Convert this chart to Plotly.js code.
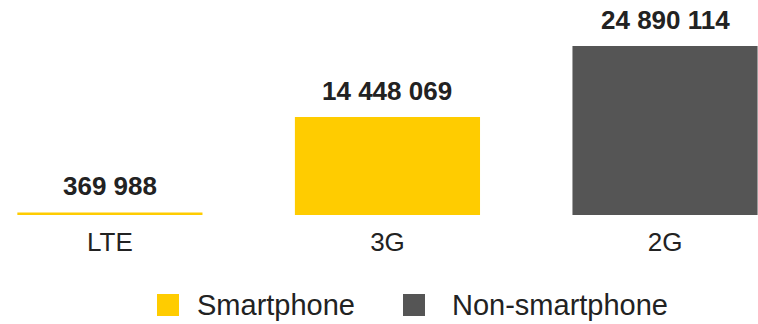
<!DOCTYPE html>
<html>
<head>
<meta charset="utf-8">
<script src="https://cdn.plot.ly/plotly-3.0.1.min.js"></script>
<style>html,body{margin:0;padding:0;background:#fff;}#chart{width:758px;height:324px;}</style>
</head>
<body>
<div id="chart"></div>
<script>
const categories = ['LTE', '3G', '2G'];
const smartphoneCats = ['LTE', '3G'];
const smartphoneValues = [369988, 14448069];
const nonSmartCats = ['2G'];
const nonSmartValues = [24890114];
const valueLabels = ['369 988', '14 448 069', '24 890 114'];
const seriesNames = ['Smartphone', 'Non-smartphone'];
const colors = ['#FFCC00', '#555555'];

const FONT = '"Liberation Sans", Arial, sans-serif';
const allCats = smartphoneCats.concat(nonSmartCats);
const allVals = smartphoneValues.concat(nonSmartValues);

const traces = [
  {type: 'bar', name: seriesNames[0], x: smartphoneCats, y: smartphoneValues,
   marker: {color: colors[0]}, hoverinfo: 'skip', showlegend: false},
  {type: 'bar', name: seriesNames[1], x: nonSmartCats, y: nonSmartValues,
   marker: {color: colors[1]}, hoverinfo: 'skip', showlegend: false}
];

const annotations = allCats.map((c, i) => ({
  x: c, y: allVals[i], xref: 'x', yref: 'y', text: '<b>' + valueLabels[i] + '</b>',
  showarrow: false, yanchor: 'middle', yshift: 26,
  font: {family: FONT, size: 26, color: '#222222'}
}));

// Legend (drawn manually to match large swatches)
const W = 758, PH = 215;
const legendItems = [
  {sx: 157, tx: 195},
  {sx: 403, tx: 450}
];
const shapes = [];
legendItems.forEach((it, i) => {
  shapes.push({type: 'rect', xref: 'paper', yref: 'paper',
    x0: it.sx / W, x1: (it.sx + 22) / W,
    y0: (PH - 316) / PH, y1: (PH - 294) / PH,
    fillcolor: colors[i], line: {width: 0}});
  annotations.push({xref: 'paper', yref: 'paper', x: it.tx / W, y: (PH - 305) / PH,
    xanchor: 'left', yanchor: 'middle', showarrow: false, text: seriesNames[i],
    font: {family: FONT, size: 29, color: '#222222'}});
});

const layout = {
  width: 758, height: 324,
  margin: {l: 0, r: 0, t: 0, b: 109, pad: 0},
  paper_bgcolor: '#ffffff', plot_bgcolor: '#ffffff',
  barmode: 'overlay', bargap: 0.333,
  showlegend: false,
  xaxis: {type: 'category', categoryorder: 'array', categoryarray: categories,
    range: [-0.396, 2.335], showgrid: false, zeroline: false, showline: false,
    ticks: 'outside', ticklen: 4, tickcolor: 'rgba(0,0,0,0)',
    tickfont: {family: FONT, size: 26, color: '#222222'}},
  yaxis: {range: [0, 31660000], visible: false, showgrid: false, zeroline: false},
  annotations: annotations,
  shapes: shapes
};

Plotly.newPlot('chart', traces, layout, {staticPlot: true, displayModeBar: false});
</script>
</body>
</html>
